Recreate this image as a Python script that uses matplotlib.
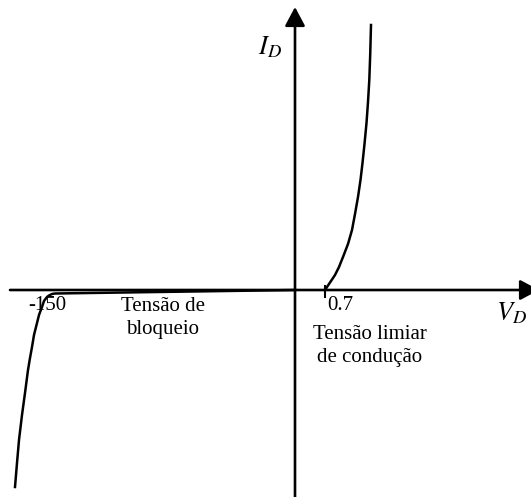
import matplotlib.pyplot as plt

plt.rcParams['mathtext.fontset'] = 'stix'
plt.rcParams['font.family'] = ['Liberation Serif', 'DejaVu Serif']

# curva direta (condução), coordenadas do esquema com origem nos eixos
fwd_v = [30, 32, 36, 40, 44, 48, 53, 57, 60, 63, 65.5, 67.5, 69.5, 71.5,
         73, 74.3, 75.2, 76]
fwd_i = [0, 3, 9, 15, 23, 33, 46, 60, 76, 93, 110, 127, 146, 167,
         188, 210, 235, 265]

# curva inversa (bloqueio e ruptura)
rev_v = [0, -240, -243, -246, -248, -251, -253, -256, -258, -261, -263,
         -265, -267, -270, -273, -276, -278, -280]
rev_i = [0, -3.5, -4, -5.5, -7, -11, -17, -25, -33, -45, -57,
         -68, -80, -103, -125, -150, -173, -197]

# marcas e textos
tick_v = 30
tick_label = '0.7'
rev_label = '-150'
rev_note = 'Tensão de\nbloqueio'
fwd_note = 'Tensão limiar\nde condução'

fig = plt.figure(figsize=(5.31, 4.97), dpi=100)
ax = fig.add_axes([0, 0, 1, 1])
ax.set_xlim(-295, 236)
ax.set_ylim(-207, 290)
ax.axis('off')

# eixos com setas
arrow = dict(arrowstyle='-|>,head_length=0.46,head_width=0.245', lw=1.9,
             color='black', mutation_scale=25, shrinkA=0, shrinkB=0)
ax.annotate('', xy=(244, 0), xytext=(-285, 0), arrowprops=arrow,
            annotation_clip=False)
ax.annotate('', xy=(0, 283), xytext=(0, -207), arrowprops=arrow,
            annotation_clip=False)

ax.plot(fwd_v, fwd_i, color='black', lw=1.8, solid_joinstyle='round')
ax.plot(rev_v, rev_i, color='black', lw=1.8, solid_joinstyle='round')
ax.plot([tick_v, tick_v], [-7, 4], color='black', lw=1.5)

ax.text(-37, 243, r'$I_D$', fontsize=19, ha='left', va='center')
ax.text(232, -23, r'$V_D$', fontsize=19, ha='right', va='center')
ax.text(-248, -16, rev_label, fontsize=15, ha='center', va='center')
ax.text(-132, -28, rev_note, fontsize=15, ha='center', va='center',
        linespacing=1.35)
ax.text(45, -16, tick_label, fontsize=15, ha='center', va='center')
ax.text(75, -56, fwd_note, fontsize=15, ha='center', va='center',
        linespacing=1.35)

fig.savefig('out.png', dpi=100)
